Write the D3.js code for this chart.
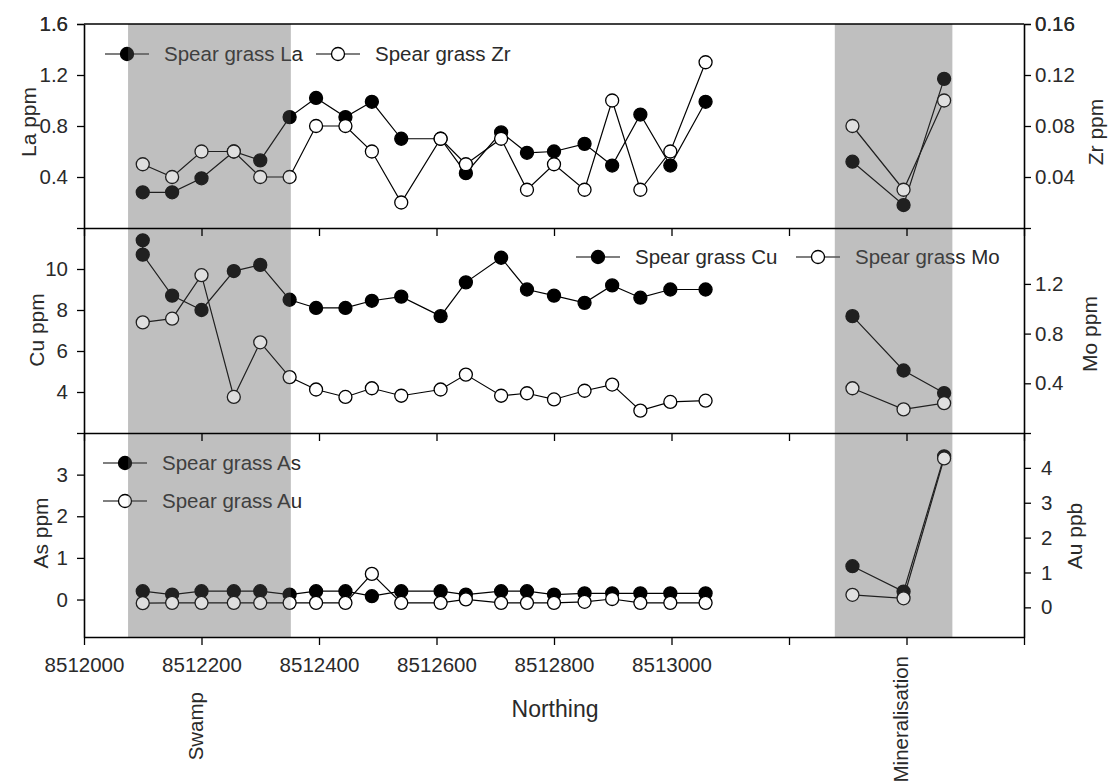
<!DOCTYPE html>
<html>
<head>
<meta charset="utf-8">
<script src="https://cdn.jsdelivr.net/npm/d3@7"></script>
<style>
body { margin: 0; background: #fff; }
svg text { font-family: "Liberation Sans", Arial, sans-serif; fill: #2a2a2a; }
</style>
</head>
<body>
<div id="chart"></div>
<script>
// sample sites along the traverse (Northing)
var northing = [8512100, 8512150, 8512200, 8512255, 8512300, 8512350, 8512395, 8512445, 8512490, 8512540,
                8512607, 8512650, 8512710, 8512754, 8512800, 8512852, 8512899, 8512947, 8512998, 8513058,
                8513308, 8513395, 8513464];
// Cu has a repeat sample at the first site
var cuNorthing = [8512100].concat(northing);

var la = [0.28, 0.28, 0.39, 0.60, 0.53, 0.87, 1.02, 0.87, 0.99, 0.70, 0.70, 0.43, 0.75, 0.59, 0.60, 0.66, 0.49, 0.89, 0.49, 0.99,
          0.52, 0.18, 1.17];
var zr = [0.05, 0.04, 0.06, 0.06, 0.04, 0.04, 0.08, 0.08, 0.06, 0.02, 0.07, 0.05, 0.07, 0.03, 0.05, 0.03, 0.10, 0.03, 0.06, 0.13,
          0.08, 0.03, 0.10];
var cu = [11.4, 10.7, 8.7, 8.0, 9.9, 10.2, 8.5, 8.1, 8.1, 8.45, 8.65, 7.7, 9.35, 10.55, 9.0, 8.7, 8.35, 9.2, 8.6, 9.0, 9.0,
          7.7, 5.05, 3.95];
var mo = [0.89, 0.92, 1.27, 0.29, 0.73, 0.45, 0.35, 0.29, 0.36, 0.30, 0.35, 0.47, 0.30, 0.32, 0.27, 0.34, 0.39, 0.18, 0.25, 0.26,
          0.36, 0.19, 0.24];
var as = [0.2, 0.12, 0.2, 0.2, 0.2, 0.12, 0.2, 0.2, 0.08, 0.2, 0.2, 0.12, 0.2, 0.2, 0.12, 0.15, 0.15, 0.15, 0.15, 0.15,
          0.8, 0.19, 3.44];
var au = [0.12, 0.13, 0.13, 0.13, 0.13, 0.13, 0.13, 0.13, 0.96, 0.13, 0.13, 0.23, 0.13, 0.13, 0.13, 0.16, 0.24, 0.13, 0.13, 0.13,
          0.36, 0.26, 4.27];

var xTicks = [8512000, 8512200, 8512400, 8512600, 8512800, 8513000, 8513200, 8513400, 8513600];
var xLabelled = [8512000, 8512200, 8512400, 8512600, 8512800, 8513000];
var laTicks = [0.4, 0.8, 1.2, 1.6], zrTicks = [0.04, 0.08, 0.12, 0.16];
var cuTicks = [4, 6, 8, 10], moTicks = [0.4, 0.8, 1.2];
var asTicks = [0, 1, 2, 3], auTicks = [0, 1, 2, 3, 4];

var zones = [
  {name: "Swamp", from: 8512075, to: 8512352, at: 8512200},
  {name: "Mineralisation", from: 8513278, to: 8513478, at: 8513400}
];

var W = 1110, H = 782, L = 84, R = 1024, TOP = 24, BOT = 637;
var FS = "20.5px";

var svg = d3.select("#chart").append("svg").attr("width", W).attr("height", H);
var x = d3.scaleLinear().domain([8512000, 8513600]).range([L, R]);

var panels = [
  {top: 24, bottom: 228,
   a: {label: "Spear grass La", xs: northing, ys: la, dom: [0, 1.6], ticks: laTicks, fmt: ".1f", title: "La ppm", tx: 36, ty: 122},
   b: {label: "Spear grass Zr", xs: northing, ys: zr, dom: [0, 0.16], ticks: zrTicks, fmt: ".2f", title: "Zr ppm", tx: 1103, ty: 132, pad: 4},
   legend: [[127, 54], [338, 54]]},
  {top: 228, bottom: 433,
   a: {label: "Spear grass Cu", xs: cuNorthing, ys: cu, dom: [2, 12], ticks: cuTicks, fmt: "d", title: "Cu ppm", tx: 44, ty: 330},
   b: {label: "Spear grass Mo", xs: northing, ys: mo, dom: [0, 1.65], ticks: moTicks, fmt: ".1f", title: "Mo ppm", tx: 1097, ty: 334, pad: 4},
   legend: [[598, 257], [818, 257]]},
  {top: 433, bottom: 637,
   a: {label: "Spear grass As", xs: northing, ys: as, dom: [-0.9, 4], ticks: asTicks, fmt: "d", title: "As ppm", tx: 48, ty: 533},
   b: {label: "Spear grass Au", xs: northing, ys: au, dom: [-0.85, 5], ticks: auTicks, fmt: "d", title: "Au ppb", tx: 1082, ty: 536, pad: 10},
   legend: [[125, 463], [125, 501]]}
];

// shaded zones (base layer)
svg.selectAll(".zone").data(zones).enter().append("rect")
  .attr("x", d => x(d.from)).attr("width", d => x(d.to) - x(d.from))
  .attr("y", TOP).attr("height", BOT - TOP)
  .attr("fill", "#d5d5d5");

function segments(xs, ys) {
  var segs = [[]];
  xs.forEach(function(v, i) {
    if (i > 0 && v - xs[i - 1] > 200) segs.push([]);
    segs[segs.length - 1].push([v, ys[i]]);
  });
  return segs;
}

function drawSeries(s, y, filled) {
  var line = d3.line().x(d => x(d[0])).y(d => y(d[1]));
  segments(s.xs, s.ys).forEach(function(seg) {
    svg.append("path").attr("d", line(seg))
      .attr("fill", "none").attr("stroke", "#000").attr("stroke-width", 1.2);
  });
  svg.append("g").selectAll("circle")
    .data(s.xs.map((v, i) => [v, s.ys[i]]))
    .enter().append("circle")
    .attr("cx", d => x(d[0])).attr("cy", d => y(d[1])).attr("r", 6.5)
    .attr("fill", filled ? "#000" : "#fff")
    .attr("stroke", "#000").attr("stroke-width", 1.3);
}

function legendItem(px, py, label, filled) {
  svg.append("line").attr("x1", px - 22).attr("x2", px + 22).attr("y1", py).attr("y2", py)
    .attr("stroke", "#000").attr("stroke-width", 1.2);
  svg.append("circle").attr("cx", px).attr("cy", py).attr("r", 6.5)
    .attr("fill", filled ? "#000" : "#fff").attr("stroke", "#000").attr("stroke-width", 1.3);
  svg.append("text").attr("x", px + 37).attr("y", py).attr("dy", "0.35em")
    .style("font-size", FS).text(label);
}

panels.forEach(function(p) {
  p.yA = d3.scaleLinear().domain(p.a.dom).range([p.bottom, p.top]);
  p.yB = d3.scaleLinear().domain(p.b.dom).range([p.bottom, p.top]);
  drawSeries(p.a, p.yA, true);
  drawSeries(p.b, p.yB, false);
  legendItem(p.legend[0][0], p.legend[0][1], p.a.label, true);
  legendItem(p.legend[1][0], p.legend[1][1], p.b.label, false);
});

// zone overlay darkens marks inside the shaded bands
svg.selectAll(".zoneTop").data(zones).enter().append("rect")
  .attr("x", d => x(d.from)).attr("width", d => x(d.to) - x(d.from))
  .attr("y", TOP).attr("height", BOT - TOP)
  .attr("fill", "#808080").attr("opacity", 0.25);

function styleAxis(g) {
  g.select(".domain").attr("stroke", "#000").attr("stroke-width", 1.6);
  g.selectAll(".tick line").attr("stroke", "#000").attr("stroke-width", 1.3);
  g.selectAll(".tick text").style("font-size", FS).attr("fill", "#2a2a2a");
}

// top frame line
svg.append("line").attr("x1", L).attr("x2", R).attr("y1", TOP).attr("y2", TOP)
  .attr("stroke", "#000").attr("stroke-width", 1.6);

panels.forEach(function(p, i) {
  var fa = d3.format(p.a.fmt), fb = d3.format(p.b.fmt);
  var ta = p.a.ticks.concat([p.a.dom[1]]), tb = p.b.ticks.concat([p.b.dom[1]]);
  svg.append("g").attr("transform", "translate(" + L + ",0)")
    .call(d3.axisLeft(p.yA).tickValues(ta).tickSize(7).tickPadding(9).tickSizeOuter(0)
      .tickFormat(v => p.a.ticks.indexOf(v) >= 0 ? fa(v) : ""))
    .call(styleAxis);
  svg.append("g").attr("transform", "translate(" + R + ",0)")
    .call(d3.axisRight(p.yB).tickValues(tb).tickSize(7).tickPadding(p.b.pad).tickSizeOuter(0)
      .tickFormat(v => p.b.ticks.indexOf(v) >= 0 ? fb(v) : ""))
    .call(styleAxis);
  var last = i === panels.length - 1;
  svg.append("g").attr("transform", "translate(0," + p.bottom + ")")
    .call(d3.axisBottom(x).tickValues(xTicks).tickSize(8).tickPadding(12).tickSizeOuter(0)
      .tickFormat(v => last && xLabelled.indexOf(v) >= 0 ? d3.format("d")(v) : ""))
    .call(styleAxis);

  svg.append("text").attr("transform", "translate(" + p.a.tx + "," + p.a.ty + ") rotate(-90)")
    .attr("text-anchor", "middle").style("font-size", "21px").text(p.a.title);
  svg.append("text").attr("transform", "translate(" + p.b.tx + "," + p.b.ty + ") rotate(-90)")
    .attr("text-anchor", "middle").style("font-size", "21px").text(p.b.title);
});

// zone names under the axis
zones.forEach(function(z) {
  var top = xLabelled.indexOf(z.at) >= 0 ? 692 : 656;
  svg.append("text").attr("transform", "translate(" + (x(z.at) + 1) + "," + top + ") rotate(-90)")
    .attr("text-anchor", "end").style("font-size", FS).text(z.name);
});

svg.append("text").attr("x", (x(8512000) + x(8513600)) / 2 + 1).attr("y", 717)
  .attr("text-anchor", "middle").style("font-size", "23px").text("Northing");
</script>
</body>
</html>
